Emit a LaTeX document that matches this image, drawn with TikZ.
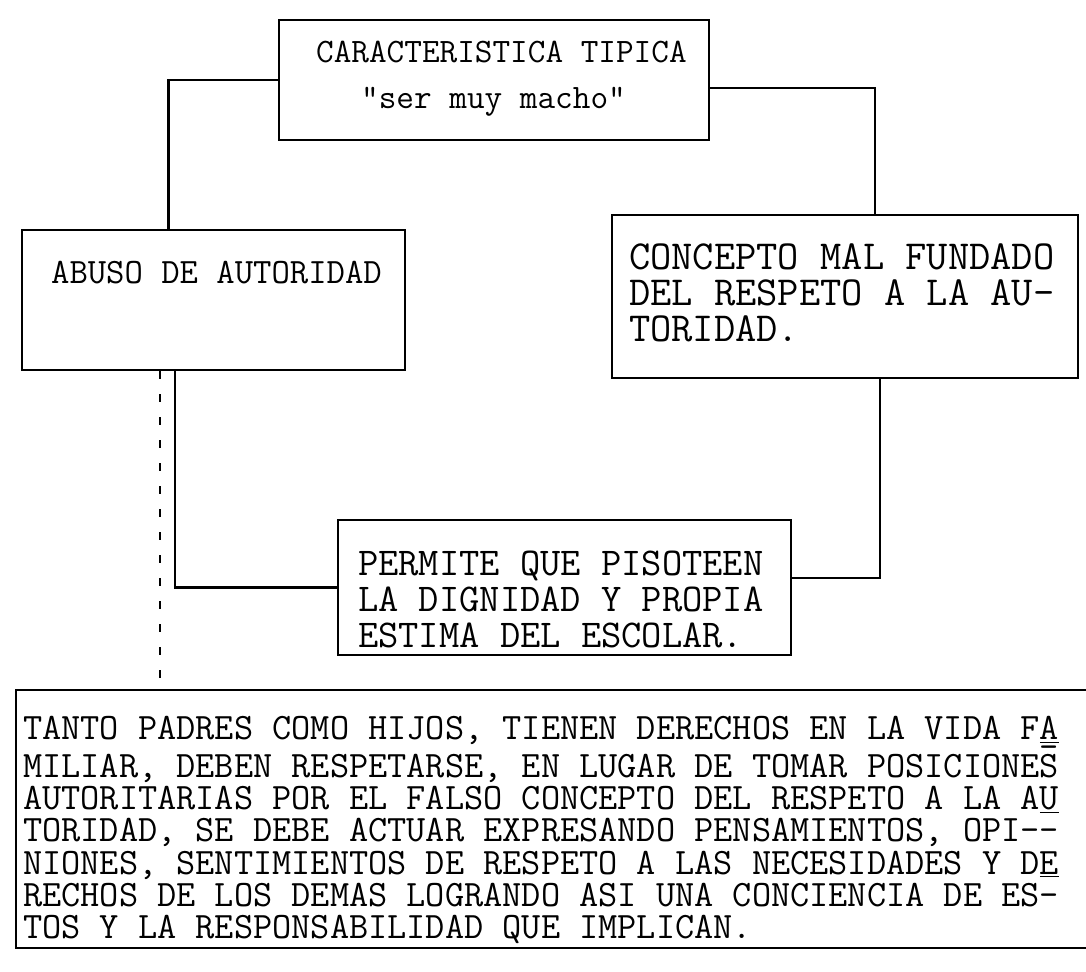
\documentclass[tikz,border=0pt]{standalone}
\usepackage{fontspec}
\newcommand{\maquina}[2]{\ttfamily\fontsize{#1}{#2}\selectfont}
\begin{document}
\begin{tikzpicture}[x=0.02cm, y=-0.02cm, line width=1.3pt,
    caja/.style={draw, rectangle, inner sep=0pt},
    letra/.style={anchor=north west, inner sep=0pt, align=left},
    guiones/.style={line width=1pt, dash pattern=on 0.16cm off 0.3cm}]
\useasboundingbox (0,0) rectangle (1086,972);
\clip (0,0) rectangle (1086,972);
\node[caja, minimum width=8.6cm, minimum height=2.4cm] (tipica) at (494,80) {};
\node[letra, font=\maquina{19.5}{27}] (tipicaA) at (315,40) {CARACTERISTICA TIPICA};
\node[letra, font=\maquina{19.5}{27}] (tipicaB) at (360,86) {"ser muy macho"};
\node[caja, minimum width=7.66cm, minimum height=2.8cm] (abuso) at (213.5,300) {};
\node[letra, font=\maquina{20.3}{20.5}] (abusoT) at (50,260) {ABUSO DE AUTORIDAD};
\node[caja, minimum width=9.32cm, minimum height=3.26cm] (concepto) at (845,296.5) {};
\node[letra, font=\maquina{23.5}{20.5}] (conceptoT) at (628,243)
    {CONCEPTO MAL FUNDADO\\DEL RESPETO A LA AU-\\TORIDAD.};
\node[caja, minimum width=9.06cm, minimum height=2.7cm] (pisotear) at (564.5,587.5) {};
\node[letra, font=\maquina{22.4}{20.5}] (pisotearT) at (357,550)
    {PERMITE QUE PISOTEEN\\LA DIGNIDAD Y PROPIA\\ESTIMA DEL ESCOLAR.};
\node[caja, minimum width=21.88cm, minimum height=5.16cm] (marco) at (563,819) {};
\node[letra, font=\maquina{21.2}{18.3}] (marcoT) at (22,715)
    {TANTO PADRES COMO HIJOS, TIENEN DERECHOS EN LA VIDA F\underline{A}\\
     MILIAR, DEBEN RESPETARSE, EN LUGAR DE TOMAR POSICIONES\llap{\raisebox{0.5em}{-}}\\
     AUTORITARIAS POR EL FALSO CONCEPTO DEL RESPETO A LA A\underline{U}\\
     TORIDAD, SE DEBE ACTUAR EXPRESANDO PENSAMIENTOS, OPI--\\
     NIONES, SENTIMIENTOS DE RESPETO A LAS NECESIDADES Y D\underline{E}\\
     RECHOS DE LOS DEMAS LOGRANDO ASI UNA CONCIENCIA DE ES-\\
     TOS Y LA RESPONSABILIDAD QUE IMPLICAN.};
\draw (tipica.west) -| ([xshift=-0.9cm]abuso.north);
\draw ([yshift=-0.16cm]tipica.east) -| ([xshift=0.6cm]concepto.north);
\draw ([xshift=-0.77cm]abuso.south) |- (pisotear.west);
\draw ([xshift=0.7cm]concepto.south) |- ([yshift=0.19cm]pisotear.east);
\draw[guiones] ([xshift=-1.07cm]abuso.south) -- ([xshift=-1.07cm]abuso.south |- marco.north);
\end{tikzpicture}
\end{document}
